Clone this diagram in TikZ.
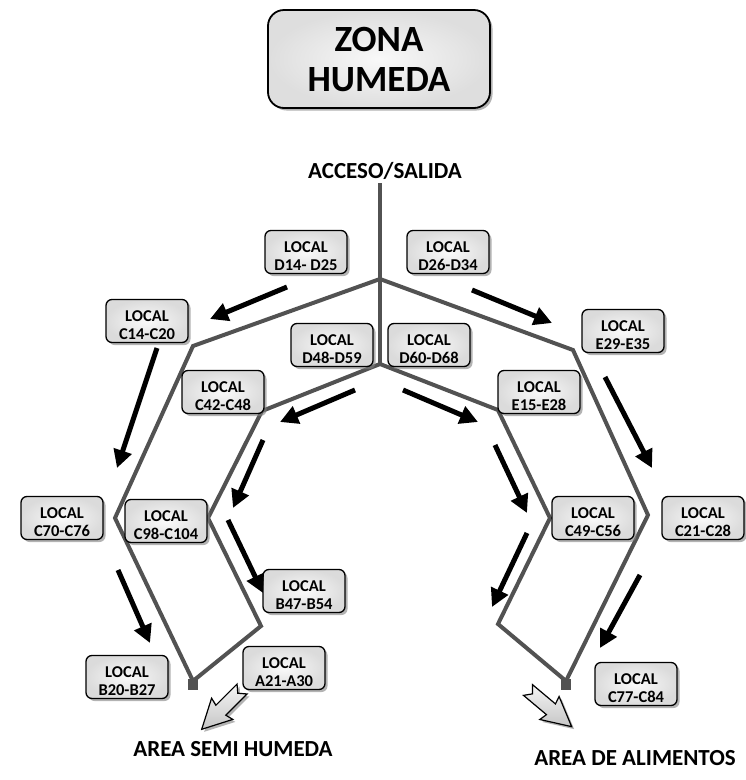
\documentclass[tikz,border=0pt]{standalone}
\usepackage{fontspec}
\setmainfont{Carlito}
\usetikzlibrary{arrows.meta,shadows}
\begin{document}
\begin{tikzpicture}[x=1pt,y=-1pt,
  route/.style={draw=black!68,line width=4pt,line join=miter},
  flow/.style={line width=5pt,-{Triangle[length=18pt,width=18pt]}},
  boxshadow/.style={drop shadow={shadow xshift=2.5pt,shadow yshift=-2.5pt,fill=black!50,opacity=0.6}},
  localbox/.style={draw=black,line width=1.3pt,rounded corners=6pt,
    minimum width=82pt,minimum height=43pt,inner sep=0pt,align=center,
    inner color=gray!4,outer color=gray!28,boxshadow,
    font=\fontsize{16.5}{18.5}\selectfont\bfseries},
  titlebox/.style={draw=black,line width=1.8pt,rounded corners=16pt,
    minimum width=222pt,minimum height=98pt,inner sep=0pt,align=center,
    inner color=gray!5,outer color=gray!26,boxshadow,
    font=\fontsize{37}{40}\selectfont\bfseries},
  heading/.style={font=\fontsize{23}{26}\selectfont\bfseries,inner sep=0pt,anchor=base},
  bigarrow/.style={draw=black,line width=1.2pt,line join=miter,
    top color=gray!8,bottom color=gray!45,boxshadow}]
\useasboundingbox (0,0) rectangle (746,780);

% title and headings
\node[titlebox] (title) at (379,59) {ZONA\\HUMEDA};
\node[heading] (acceso) at (385,178) {ACCESO/SALIDA};
\node[heading] (semi) at (233,756) {AREA SEMI HUMEDA};
\node[heading] (alim) at (635,765) {AREA DE ALIMENTOS};

% route vertices
\coordinate (top) at (380,183);
\coordinate (j1) at (380,279);
\coordinate (j2) at (380,364);
\coordinate (l1) at (193,346);
\coordinate (l2) at (115,518);
\coordinate (l3) at (193,681);
\coordinate (l4) at (261,626);
\coordinate (l5) at (208,518);
\coordinate (l6) at (262,411);
\coordinate (r1) at (573,350);
\coordinate (r2) at (648,515);
\coordinate (r3) at (566,681);
\coordinate (r4) at (498,624);
\coordinate (r5) at (550,518);
\coordinate (r6) at (498,410);

% corridors
\draw[route] (top) -- (j2);
\draw[route] (j1) -- (l1) -- (l2) -- (l3) -- (l4) -- (l5) -- (l6) -- (j2);
\draw[route] (j1) -- (r1) -- (r2) -- (r3) -- (r4) -- (r5) -- (r6) -- (j2);
\fill[black!68] (188,679) rectangle (198,690);
\fill[black!68] (561,679) rectangle (571,690);

% shops
\node[localbox] (d14) at (306,252) {\rule{0pt}{19pt}LOCAL\\D14- D25};
\node[localbox] (d26) at (448,252) {\rule{0pt}{19pt}LOCAL\\D26-D34};
\node[localbox] (c14) at (147,321) {\rule{0pt}{19pt}LOCAL\\C14-C20};
\node[localbox] (e29) at (623,331) {\rule{0pt}{19pt}LOCAL\\E29-E35};
\node[localbox] (d48) at (332,345) {\rule{0pt}{19pt}LOCAL\\D48-D59};
\node[localbox] (d60) at (429,345) {\rule{0pt}{19pt}LOCAL\\D60-D68};
\node[localbox] (c42) at (223,392) {\rule{0pt}{19pt}LOCAL\\C42-C48};
\node[localbox] (e15) at (539,392) {\rule{0pt}{19pt}LOCAL\\E15-E28};
\node[localbox] (c70) at (62,518) {\rule{0pt}{19pt}LOCAL\\C70-C76};
\node[localbox] (c98) at (166,521) {\rule{0pt}{19pt}LOCAL\\C98-C104};
\node[localbox] (c49) at (593,518) {\rule{0pt}{19pt}LOCAL\\C49-C56};
\node[localbox] (c21) at (703,518) {\rule{0pt}{19pt}LOCAL\\C21-C28};
\node[localbox] (b47) at (304,591) {\rule{0pt}{19pt}LOCAL\\B47-B54};
\node[localbox] (a21) at (284,668) {\rule{0pt}{19pt}LOCAL\\A21-A30};
\node[localbox] (b20) at (127,677) {\rule{0pt}{19pt}LOCAL\\B20-B27};
\node[localbox] (c77) at (636,684) {\rule{0pt}{19pt}LOCAL\\C77-C84};

% direction of travel
\coordinate (f1s) at (287,287);  \coordinate (f1e) at (210,319);
\coordinate (f2s) at (472,290);  \coordinate (f2e) at (552,323);
\coordinate (f3s) at (157,348);  \coordinate (f3e) at (117,468);
\coordinate (f4s) at (263,440);  \coordinate (f4e) at (233,508);
\coordinate (f5s) at (355,390);  \coordinate (f5e) at (280,422);
\coordinate (f6s) at (403,390);  \coordinate (f6e) at (478,422);
\coordinate (f7s) at (118,570);  \coordinate (f7e) at (150,643);
\coordinate (f8s) at (228,520);  \coordinate (f8e) at (263,593);
\coordinate (f9s) at (605,377);  \coordinate (f9e) at (652,468);
\coordinate (f10s) at (495,445); \coordinate (f10e) at (527,513);
\coordinate (f11s) at (527,533); \coordinate (f11e) at (492,607);
\coordinate (f12s) at (640,575); \coordinate (f12e) at (600,648);
\foreach \i in {1,...,12} \draw[flow] (f\i s) -- (f\i e);

% exits
\begin{scope}[shift={(242,689)},rotate=225]
  \path[bigarrow] (0,7) -- (30,7) -- (28,15) -- (57,0) -- (28,-15) -- (30,-7) -- (0,-7) -- (6,0) -- cycle;
\end{scope}
\begin{scope}[shift={(528,690)},rotate=-40]
  \path[bigarrow] (0,7) -- (30,7) -- (28,15) -- (57,0) -- (28,-15) -- (30,-7) -- (0,-7) -- (6,0) -- cycle;
\end{scope}
\end{tikzpicture}
\end{document}
